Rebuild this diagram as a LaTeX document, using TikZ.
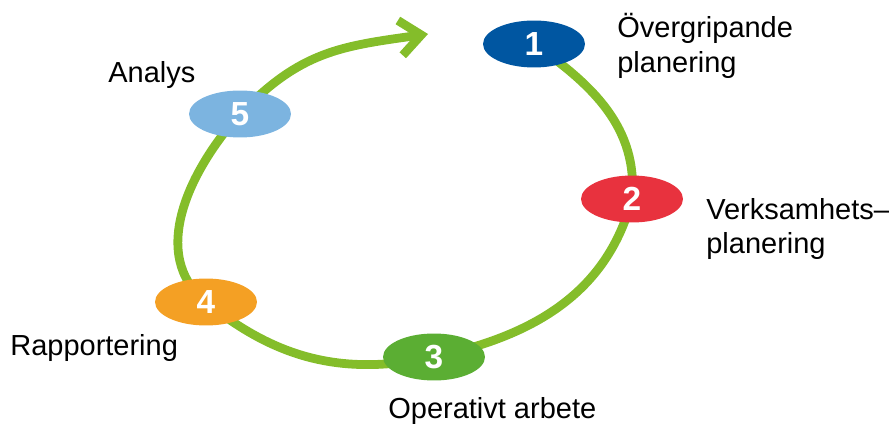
\documentclass[tikz,border=0pt]{standalone}
\usepackage{fontspec}
\setmainfont{Liberation Sans}
\usetikzlibrary{shapes.geometric,arrows.meta,backgrounds}
\definecolor{ringgreen}{HTML}{84BD2A}
\definecolor{phaseblue}{HTML}{0056A1}
\definecolor{phasered}{HTML}{E8323E}
\definecolor{phasegreen}{HTML}{5BAE33}
\definecolor{phaseorange}{HTML}{F4A024}
\definecolor{phaselight}{HTML}{7CB4E0}
\tikzstyle{phase} = [ellipse, inner sep=0pt, minimum width=2.04cm, minimum height=0.94cm, text=white, font=\fontsize{19}{21}\selectfont\bfseries]
\tikzstyle{phasetext} = [anchor=west, align=left, inner sep=0pt, font=\fontsize{16.5}{19.8}\selectfont]
\tikzstyle{ring} = [draw=ringgreen, line width=5pt, -{Straight Barb[length=12pt,width=20pt]}]

\begin{document}
\begin{tikzpicture}[x=0.02cm, y=0.02cm]
    \useasboundingbox (0,0) rectangle (889,423);
        \node[phase, fill=phaseblue] (p1) at (534,379) {1};
        \node[phase, fill=phasered] (p2) at (632,224) {2};
        \node[phase, fill=phasegreen] (p3) at (434,66) {3};
        \node[phase, fill=phaseorange] (p4) at (206,121) {4};
        \node[phase, fill=phaselight] (p5) at (240,309) {5};
        \coordinate (tip) at (428,389);
        \node[phasetext] (t1) at (617,377) {Övergripande\\planering};
        \node[phasetext] (t2) at (706,194) {Verksamhets–\\planering};
        \node[phasetext] (t3) at (388,12) {Operativt arbete};
        \node[phasetext] (t4) at (10,75) {Rapportering};
        \node[phasetext] (t5) at (108,348) {Analys};
        % the cycle runs behind the phases
        \begin{scope}[on background layer]
        \path[ring] (p1.center) to[out=-35,in=85] (p2.center)
            to[out=-105,in=12] (p3.center)
            to[out=192,in=-39] (p4.center)
            to[out=141,in=-132] (p5.center)
            to[out=46,in=188, looseness=1.1] (tip);
        \end{scope}
    \end{tikzpicture}
\end{document}
